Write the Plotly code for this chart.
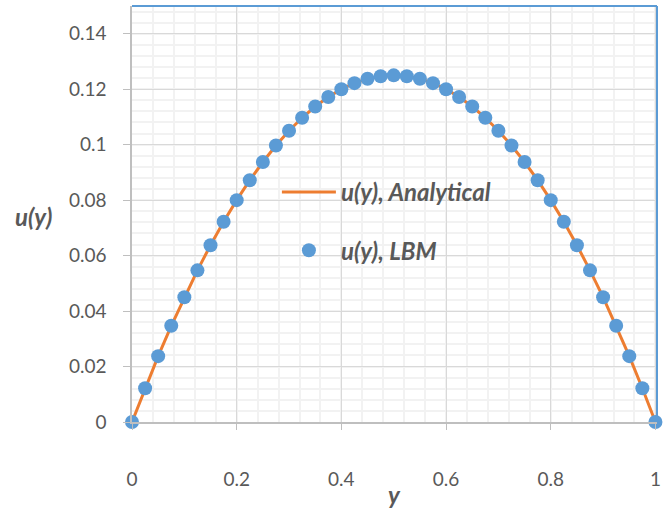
import plotly.graph_objects as go

y_pos = [0, 0.025, 0.05, 0.075, 0.1, 0.125, 0.15, 0.175, 0.2, 0.225, 0.25, 0.275, 0.3,
         0.325, 0.35, 0.375, 0.4, 0.425, 0.45, 0.475, 0.5, 0.525, 0.55, 0.575, 0.6,
         0.625, 0.65, 0.675, 0.7, 0.725, 0.75, 0.775, 0.8, 0.825, 0.85, 0.875, 0.9,
         0.925, 0.95, 0.975, 1.0]
u_analytical = [0, 0.0121875, 0.02375, 0.0346875, 0.045, 0.0546875, 0.06375, 0.0721875,
                0.08, 0.0871875, 0.09375, 0.0996875, 0.105, 0.1096875, 0.11375, 0.1171875,
                0.12, 0.1221875, 0.12375, 0.1246875, 0.125, 0.1246875, 0.12375, 0.1221875,
                0.12, 0.1171875, 0.11375, 0.1096875, 0.105, 0.0996875, 0.09375, 0.0871875,
                0.08, 0.0721875, 0.06375, 0.0546875, 0.045, 0.0346875, 0.02375, 0.0121875, 0]
u_lbm = [0, 0.0121875, 0.02375, 0.0346875, 0.045, 0.0546875, 0.06375, 0.0721875,
         0.08, 0.0871875, 0.09375, 0.0996875, 0.105, 0.1096875, 0.11375, 0.1171875,
         0.12, 0.1221875, 0.12375, 0.1246875, 0.125, 0.1246875, 0.12375, 0.1221875,
         0.12, 0.1171875, 0.11375, 0.1096875, 0.105, 0.0996875, 0.09375, 0.0871875,
         0.08, 0.0721875, 0.06375, 0.0546875, 0.045, 0.0346875, 0.02375, 0.0121875, 0]

x_tickvals = [0, 0.2, 0.4, 0.6, 0.8, 1.0]
x_ticktext = ["0", "0.2", "0.4", "0.6", "0.8", "1"]
y_tickvals = [0, 0.02, 0.04, 0.06, 0.08, 0.1, 0.12, 0.14]
y_ticktext = ["0", "0.02", "0.04", "0.06", "0.08", "0.1", "0.12", "0.14"]

FONT = "Lato"
TXT = "#595959"

fig = go.Figure()
fig.add_trace(go.Scatter(
    x=y_pos, y=u_analytical, mode="lines", name="<b><i>u(y), Analytical</i></b>",
    line=dict(color="#ED7D31", width=3), cliponaxis=False, legendgroup="a"))
fig.add_trace(go.Scatter(
    x=y_pos, y=u_lbm, mode="markers", name="<b><i>u(y), LBM</i></b>",
    marker=dict(color="#5B9BD5", size=14), cliponaxis=False, legendgroup="b"))

axis_common = dict(
    showline=True, linecolor="#BFBFBF", linewidth=1.5,
    ticks="outside", tickcolor="#BFBFBF", tickwidth=1,
    showgrid=True, gridcolor="#D9D9D9", gridwidth=1,
    zeroline=False, tickfont=dict(family=FONT, size=19, color=TXT),
)

fig.update_layout(
    width=667, height=508,
    margin=dict(l=132, r=6, t=6, b=86),
    paper_bgcolor="white", plot_bgcolor="white",
    showlegend=True,
    legend=dict(x=0.276, y=0.606, xanchor="left", yanchor="top",
                bgcolor="rgba(255,255,255,0)", traceorder="grouped",
                tracegroupgap=24, itemwidth=54,
                font=dict(family=FONT, size=24, color=TXT)),
    xaxis=dict(range=[0, 1.003], tickvals=x_tickvals, ticktext=x_ticktext, ticklen=6,
               ticklabelstandoff=33,
               minor=dict(dtick=0.04, tick0=0, showgrid=True, gridcolor="#F2F2F2",
                          gridwidth=1.5, ticks=""),
               **axis_common),
    yaxis=dict(range=[0, 0.15], tickvals=y_tickvals, ticktext=y_ticktext, ticklen=7,
               ticklabelstandoff=13,
               minor=dict(dtick=0.004, tick0=0, showgrid=True, gridcolor="#F2F2F2",
                          gridwidth=1.5, ticks=""),
               **axis_common),
    shapes=[
        dict(type="line", xref="paper", yref="paper", x0=0, x1=1, y0=1, y1=1,
             line=dict(color="#5B9BD5", width=2)),
        dict(type="line", xref="paper", yref="paper", x0=1, x1=1, y0=0, y1=1,
             line=dict(color="#5B9BD5", width=2)),
    ],
    annotations=[
        dict(text="<b><i>u(y)</i></b>", xref="paper", yref="paper", x=-0.187, y=0.495,
             xanchor="center", yanchor="middle", showarrow=False,
             font=dict(family=FONT, size=24, color=TXT)),
        dict(text="<b><i>y</i></b>", xref="paper", yref="paper", x=0.5, y=-0.175,
             xanchor="center", yanchor="middle", showarrow=False,
             font=dict(family=FONT, size=24, color=TXT)),
    ],
)

fig.write_html("out.html")
